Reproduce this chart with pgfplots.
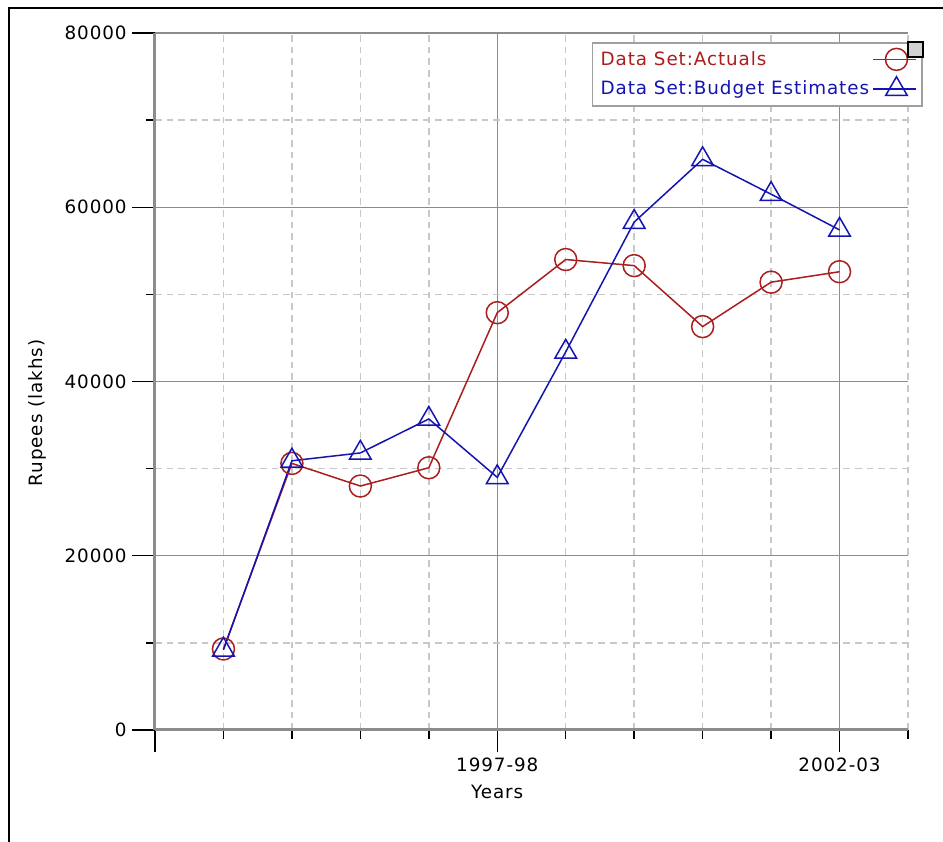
\documentclass[border=0pt]{standalone}
\usepackage{pgfplots}
\pgfplotsset{compat=1.18}
\usepackage{fontspec}
\setmainfont[LetterSpace=5]{DejaVu Sans}

\definecolor{actred}{RGB}{170,30,30}
\definecolor{budblue}{RGB}{20,20,178}
\definecolor{majgrid}{RGB}{140,140,140}
\definecolor{mingrid}{RGB}{200,200,200}

\begin{document}
\begin{tikzpicture}
\useasboundingbox[fill=white] (-93pt,-67.2pt) rectangle (472.8pt,438pt);
\begin{axis}[
  name=ax,
  at={(0,0)}, anchor=south west,
  scale only axis,
  width=451.8pt, height=418.2pt,
  xmin=0, xmax=11, ymin=0, ymax=80000,
  axis lines=left,
  axis line style={-, draw=majgrid, line width=1.8pt},
  xtick={0,5,10}, xticklabels={,1997-98,2002-03},
  minor xtick={1,2,3,4,6,7,8,9,11},
  ytick={0,20000,40000,60000,80000},
  minor ytick={10000,30000,50000,70000},
  scaled y ticks=false,
  /pgf/number format/.cd, fixed, 1000 sep={}, assume math mode=true,
  /pgfplots/.cd,
  tick align=outside,
  major tick length=13.5pt, minor tick length=5.5pt,
  tick style={black, line width=0.9pt},
  grid=both,
  major grid style={solid, draw=majgrid, line width=0.9pt},
  minor grid style={draw=mingrid, line width=0.9pt, dash pattern=on 4pt off 3pt},
  tick label style={font=\fontsize{11}{13}\selectfont},
  label style={font=\fontsize{11}{13}\selectfont},
  xlabel={Years},
  ylabel={Rupees (lakhs)},
  xlabel style={at={(axis description cs:0.4545,-0.089)}, anchor=center},
  ylabel style={at={(axis description cs:-0.1567,0.455)}, anchor=center},
  legend style={name=leg, at={(axis description cs:1.0199,0.987)}, anchor=north east,
    draw=mingrid!80!black, line width=0.9pt, fill=white,
    font=\fontsize{11}{13}\selectfont, row sep=3.5pt, inner xsep=3pt, inner ysep=3pt},
  legend plot pos=right,
  legend cell align=left,
  legend image code/.code={\draw[mark repeat=2,mark phase=2,#1] plot coordinates {(0pt,0pt) (14pt,0pt) (26pt,0pt)};},
]
\addplot[actred, line width=0.9pt, mark=o, mark size=6.6pt, mark options={solid, line width=0.9pt}]
  coordinates {(1,9300) (2,30600) (3,28000) (4,30100) (5,47900) (6,54000) (7,53300) (8,46300) (9,51400) (10,52600)};
\addlegendentry[text=actred]{Data Set:Actuals}
\addplot[budblue, line width=0.9pt, mark=triangle, mark size=7.5pt, mark options={solid, line width=0.9pt}]
  coordinates {(1,9200) (2,30900) (3,31800) (4,35700) (5,29000) (6,43400) (7,58300) (8,65500) (9,61500) (10,57400)};
\addlegendentry[text=budblue]{Data Set:Budget Estimates}
\end{axis}
\draw[black, line width=0.9pt, fill=black!18] (leg.north east) rectangle ++(-9pt,-9pt);
\draw[black, line width=1.5pt] (-87.6pt,-67.2pt) -- (-87.6pt,433.2pt) -- (472.8pt,433.2pt);
\end{tikzpicture}
\end{document}
